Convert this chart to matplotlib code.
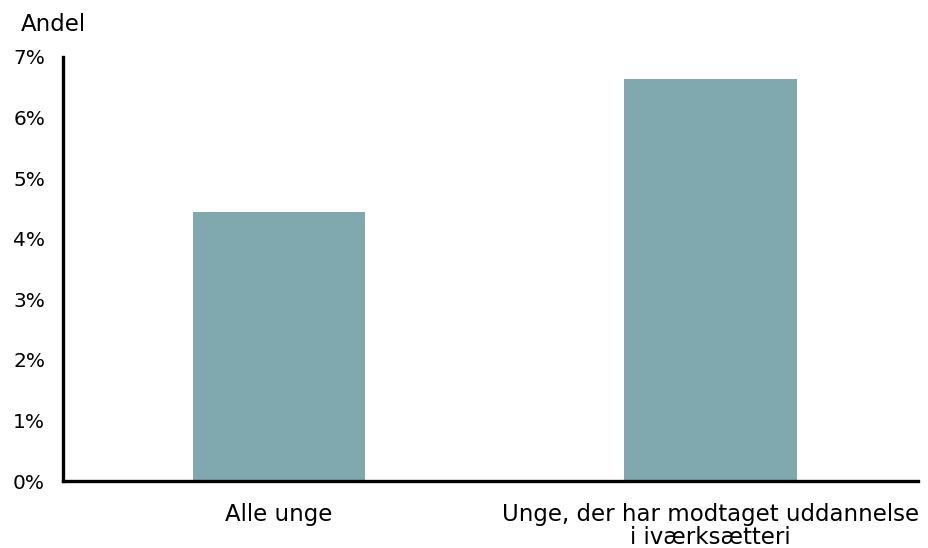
import matplotlib.pyplot as plt

# data
categories = ["Alle unge", "Unge, der har modtaget uddannelse\ni iværksætteri"]
values = [4.44, 6.64]
yticks = [0, 1, 2, 3, 4, 5, 6, 7]

plt.rcParams['font.family'] = ['DejaVu Sans']

fig = plt.figure(figsize=(9.29, 5.48), dpi=100)
ax = fig.add_axes([0.068, 0.122, 0.92, 0.774])

ax.bar(range(len(categories)), values, width=0.4, color="#80a8af")

ax.set_xlim(-0.5, 1.48)
ax.set_ylim(0, 7)
ax.set_yticks(yticks)
ax.set_yticklabels([f"{t}%" for t in yticks], fontsize=14.5)
ax.set_xticks(range(len(categories)))
ax.set_xticklabels(categories, fontsize=16.5, linespacing=1.0)
ax.tick_params(length=0)
ax.tick_params(axis='y', pad=13)
ax.tick_params(axis='x', pad=16)

for s in ["top", "right"]:
    ax.spines[s].set_visible(False)
for s in ["left", "bottom"]:
    ax.spines[s].set_linewidth(2.4)
    ax.spines[s].set_color("black")

fig.text(0.022, 0.955, "Andel", fontsize=16.5, va="center")

fig.savefig("out.png", dpi=100)
